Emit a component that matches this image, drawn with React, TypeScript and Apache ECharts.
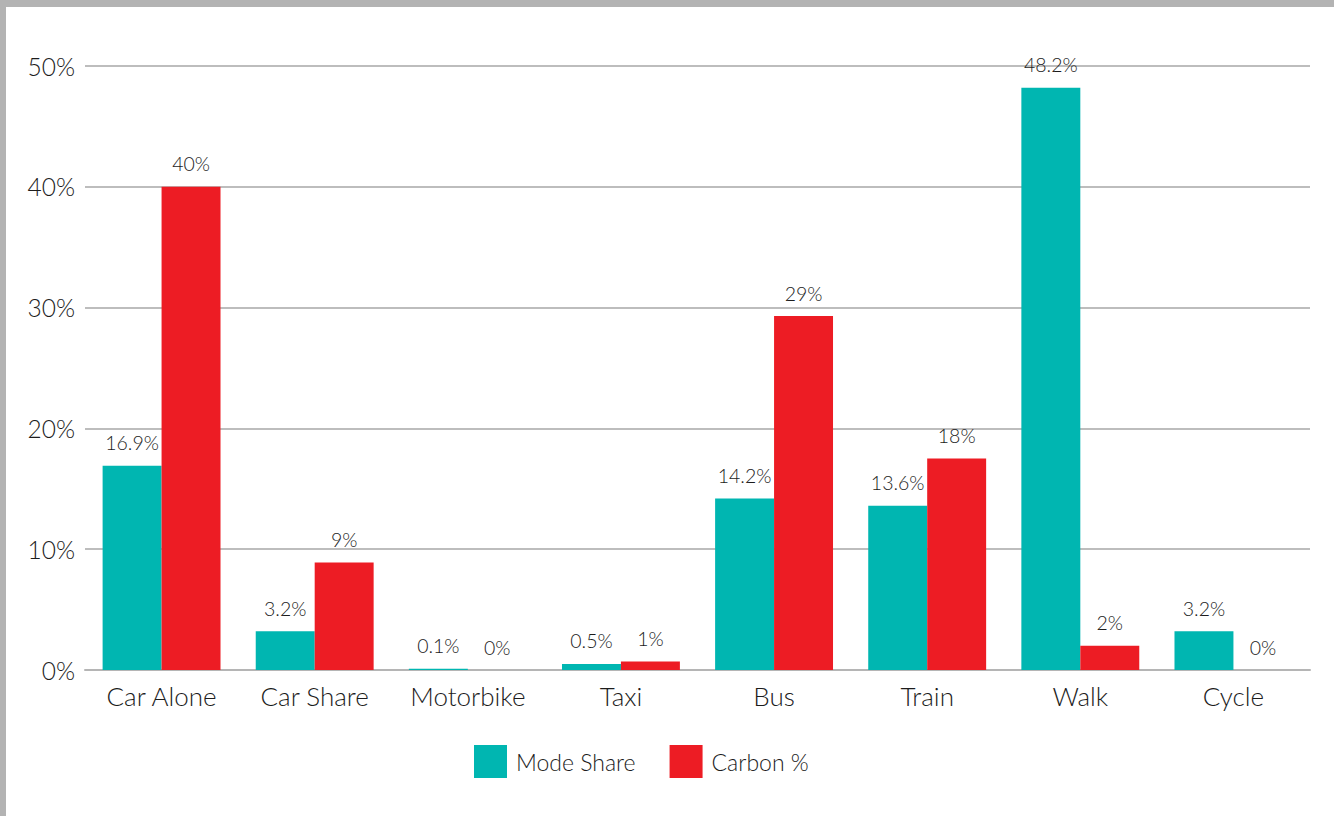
import React, { useEffect, useRef } from "react";
import * as echarts from "echarts";

const categories = ["Car Alone", "Car Share", "Motorbike", "Taxi", "Bus", "Train", "Walk", "Cycle"];
const modeShare = [16.9, 3.2, 0.1, 0.5, 14.2, 13.6, 48.2, 3.2];
const carbon = [40.0, 8.9, 0, 0.7, 29.3, 17.5, 2.0, 0];
const seriesNames = ["Mode Share", "Carbon %"];

export default function App() {
  const ref = useRef<HTMLDivElement>(null);
  useEffect(() => {
    document.body.style.margin = "0";
    const chart = echarts.init(ref.current!, null, { renderer: "svg" });
    const font = "Lato, 'Noto Sans', sans-serif";
    const textColor = "#1c1c1c";
    const labelCommon = {
      show: true,
      position: "top" as const,
      distance: 13,
      color: textColor,
      fontSize: 19.5,
      fontWeight: 300 as any,
      fontFamily: font,
    };
    chart.setOption({
      animation: false,
      backgroundColor: "#fff",
      grid: { left: 79, right: 24, top: 59, bottom: 146, containLabel: false },
      legend: {
        bottom: 33,
        left: 463,
        itemWidth: 33,
        itemHeight: 33,
        itemGap: 34,
        icon: "rect",
        textStyle: { fontSize: 23, color: textColor, fontWeight: 300, fontFamily: font, padding: [0, 0, 0, 4] },
        data: seriesNames,
      },
      xAxis: {
        type: "category",
        data: categories,
        axisLine: { lineStyle: { color: "#b5b5b5", width: 2 } },
        axisTick: { show: false },
        axisLabel: { fontSize: 26, color: textColor, fontWeight: 300, margin: 13, fontFamily: font },
      },
      yAxis: {
        type: "value",
        min: 0,
        max: 50,
        interval: 10,
        axisLine: { show: false },
        axisTick: { show: false },
        splitLine: { lineStyle: { color: "#bdbdbd", width: 2 } },
        axisLabel: { fontSize: 24.5, color: textColor, fontWeight: 300, margin: 10, formatter: "{value}%", fontFamily: font },
      },
      series: [
        {
          name: seriesNames[0],
          type: "bar",
          data: modeShare,
          barGap: "0%",
          barCategoryGap: "23%",
          itemStyle: { color: "#00b6b1" },
          label: { ...labelCommon, formatter: (p: any) => p.value.toFixed(1) + "%" },
        },
        {
          name: seriesNames[1],
          type: "bar",
          data: carbon,
          barGap: "0%",
          barCategoryGap: "23%",
          itemStyle: { color: "#ed1c24" },
          label: { ...labelCommon, formatter: (p: any) => Math.round(p.value) + "%" },
        },
      ],
    });
    return () => chart.dispose();
  }, []);
  return (
    <div style={{ position: "relative", width: 1334, height: 816, background: "#b3b3b3" }}>
      <div ref={ref} style={{ position: "absolute", left: 6, top: 7, width: 1328, height: 809 }} />
    </div>
  );
}
